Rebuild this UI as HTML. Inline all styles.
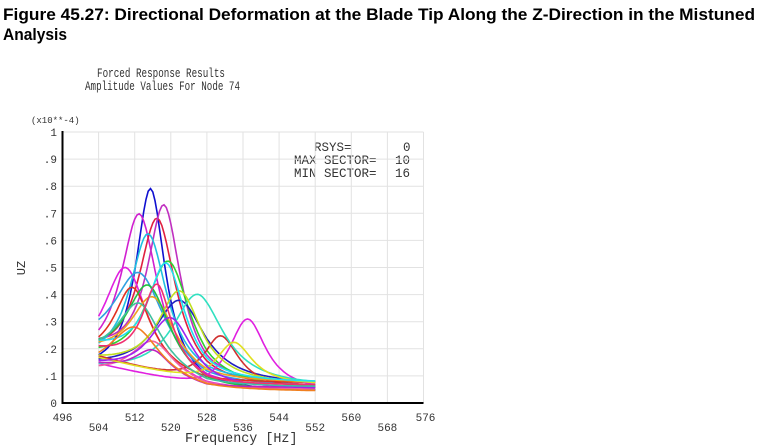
<!DOCTYPE html>
<html><head><meta charset="utf-8"><style>
html,body{margin:0;padding:0;background:#fff;width:760px;height:448px;overflow:hidden}
svg{display:block}
</style></head><body>
<svg id="s" width="760" height="448" xmlns="http://www.w3.org/2000/svg">
<text x="3" y="20" font-family="Liberation Sans, sans-serif" font-weight="bold" font-size="17" textLength="752" lengthAdjust="spacingAndGlyphs">Figure 45.27: Directional Deformation at the Blade Tip Along the Z-Direction in the Mistuned</text>
<text x="3" y="40" font-family="Liberation Sans, sans-serif" font-weight="bold" font-size="17" textLength="64" lengthAdjust="spacingAndGlyphs">Analysis</text>
<g font-family="Liberation Mono, monospace" font-size="13" fill="#333">
<text x="97" y="77" textLength="128" lengthAdjust="spacingAndGlyphs">Forced Response Results</text>
<text x="85" y="90" textLength="155" lengthAdjust="spacingAndGlyphs">Amplitude Values For Node 74</text>
<text x="31" y="123" font-size="9">(x10**-4)</text>
<text x="314" y="151" font-size="12.5">RSYS=</text><text x="403" y="151" font-size="12.5">0</text>
<text x="294" y="164" font-size="12.5">MAX SECTOR=</text><text x="395" y="164" font-size="12.5">10</text>
<text x="294" y="177" font-size="12.5">MIN SECTOR=</text><text x="395" y="177" font-size="12.5">16</text>
<text x="185" y="442" font-size="13.4">Frequency [Hz]</text>
<text transform="translate(25,268) rotate(-90)" font-size="12" text-anchor="middle">UZ</text>
</g>
<g id="grid" stroke="#e2e2e2" stroke-width="1"></g>
<g id="curves" fill="none" stroke-width="1.6"></g>
<g id="axes"></g>
</svg>
<script>
var ns="http://www.w3.org/2000/svg";
function X(f){return 62.5+(f-496)*361/80;}
function Y(v){return 403-v*271;}
var g=document.getElementById('grid'),a=document.getElementById('axes'),c=document.getElementById('curves');
function el(p,t,at){var e=document.createElementNS(ns,t);for(var k in at)e.setAttribute(k,at[k]);p.appendChild(e);return e;}
for(var f=504;f<=576;f+=8){el(g,'line',{x1:X(f),x2:X(f),y1:Y(1),y2:403});}
for(var i=1;i<=10;i++){el(g,'line',{x1:62.5,x2:X(576),y1:Y(i/10),y2:Y(i/10)});}
el(a,'line',{x1:62.5,x2:62.5,y1:Y(1)-1,y2:404,stroke:'#000','stroke-width':2});
el(a,'line',{x1:62,x2:X(576),y1:403,y2:403,stroke:'#000','stroke-width':2});
var yl=['0','.1','.2','.3','.4','.5','.6','.7','.8','.9','1'];
for(var i=0;i<=10;i++){var t=el(a,'text',{x:57,y:Y(i/10)+4,'text-anchor':'end','font-family':'Liberation Mono, monospace','font-size':11,fill:'#333'});t.textContent=yl[i];}
for(var f=496,k=0;f<=576;f+=8,k++){var t=el(a,'text',{x:X(f)+(f==576?2:0),y:k%2==0?421:431,'text-anchor':'middle','font-family':'Liberation Mono, monospace','font-size':11,fill:'#333'});t.textContent=f;}
var cs=[[515.5,.72,4,'#1010d0'],[513,.60,5,'#d020d0'],[517,.58,5,'#e02040'],[518.5,.62,4.5,'#c030c0'],[515,.52,5,'#20c0e0'],[510,.40,6,'#e020e0'],[519.5,.44,6,'#30d030'],[513,.35,7,'#30a0e0'],[522,.30,7,'#2020c0'],[511.5,.30,5,'#e03020'],[537,.27,5,'#e020e0'],[531,.20,5,'#d03030'],[526,.34,7,'#30e0c0'],[522,.33,6,'#c0e020'],[516,.27,6,'#f0a020'],[515,.33,6,'#20c040'],[516,.15,6,'#f060a0'],[516,.10,5,'#c020c0'],[534,.16,5,'#e0e020'],[519,.40,5,'#20e0f0'],[512,.20,7,'#f08020'],[520,.24,6,'#a020f0'],[513,.25,6,'#40c0a0'],[517,.32,4,'#f03070']];
cs.forEach(function(p,i){var d='',b=0.04+(i%5)*0.008,s=0.06+(i%4)*0.02;for(var f=504;f<=552;f+=0.5){var v=b+p[1]/(1+Math.pow((f-p[0])/p[2],2))+s*Math.max(0,(528-f)/24);d+=(f==504?'M':'L')+X(f).toFixed(1)+','+Y(v).toFixed(1);}el(c,'path',{d:d,stroke:p[3]});});
</script>
</body></html>
